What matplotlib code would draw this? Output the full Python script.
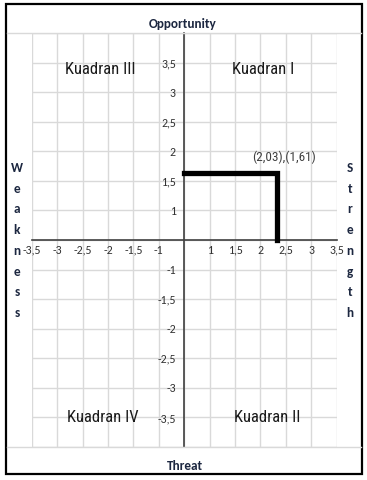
import matplotlib
matplotlib.use('Agg')
import matplotlib.pyplot as plt
from matplotlib.patches import Rectangle
from matplotlib.lines import Line2D

# tick positions (one grid step = 0.5) and the labels printed at them
x_ticks = [-3.0, -2.5, -2.0, -1.5, -1.0, -0.5, 0.0, 0.5, 1.0, 1.5, 2.0, 2.5, 3.0]
x_labels = ["-3,5", "-3", "-2,5", "-2", "-1,5", "-1", "", "1", "1,5", "2", "2,5", "3", "3,5"]
y_ticks = [-3.5, -3.0, -2.5, -2.0, -1.5, -1.0, -0.5, 0.0, 0.5, 1.0, 1.5, 2.0, 2.5, 3.0, 3.5]
y_labels = ["", "-3,5", "-3", "-2,5", "-2", "-1,5", "-1", "", "1", "1,5", "2", "2,5", "3", "3,5", ""]

# position of the result on the grid, and its label
point_x = 1.82
point_y = 1.13
point_label = "(2,03),(1,61)"

quadrants = ["Kuadran III", "Kuadran I", "Kuadran IV", "Kuadran II"]
quad_x = [-1.65, 1.56, -1.6, 1.64]
quad_y = [2.89, 2.89, -3.0, -3.0]

narrow = ['Roboto Condensed', 'DejaVu Sans']
calibri = ['Carlito', 'DejaVu Sans']
navy = '#1c2740'

fig = plt.figure(figsize=(3.67, 4.8), dpi=100)
W, H = 367, 480

# outer frame
fig.patches.append(Rectangle((6 / W, 1 - 474 / H), (362 - 6) / W, (474 - 4) / H,
                             transform=fig.transFigure, fill=False, ec='black', lw=1.6))
# full-width lines above and below the plot area
for yy in (33, 447):
    fig.lines.append(Line2D([7 / W, 361 / W], [1 - yy / H, 1 - yy / H],
                            transform=fig.transFigure, color='#d9d9d9', lw=1))

ax = fig.add_axes([31.7 / W, 1 - 447 / H, (336.7 - 31.7) / W, (447 - 33) / H])
ax.set_xlim(-3, 3)
ax.set_ylim(-3.5, 3.5)
ax.set_facecolor('none')
for s in ('top', 'right'):
    ax.spines[s].set_visible(False)
ax.spines['bottom'].set_position('zero')
ax.spines['left'].set_position('zero')
for s in ('bottom', 'left'):
    ax.spines[s].set_color('#404040')
    ax.spines[s].set_linewidth(1.2)
    ax.spines[s].set_zorder(3)

ax.set_xticks(x_ticks)
ax.set_xticklabels(x_labels, family=calibri, fontsize=8.5, color='#333333')
ax.set_yticks(y_ticks)
ax.set_yticklabels(y_labels, family=calibri, fontsize=8.5, color='#333333')
ax.tick_params(length=0)
ax.tick_params(axis='x', pad=3.5)
ax.tick_params(axis='y', pad=6)
ax.grid(True, color='#d9d9d9', lw=1)
ax.set_axisbelow(True)

# the result line
ax.plot([0, point_x, point_x], [point_y, point_y, 0], color='black', lw=3.8,
        solid_joinstyle='miter', zorder=4)
ax.text(point_x + 0.15, point_y + 0.26, point_label, family=narrow, fontsize=9.5,
        color='#404040', ha='center', va='center')

for name, qx, qy in zip(quadrants, quad_x, quad_y):
    ax.text(qx, qy, name, family=narrow, fontsize=12, color='#1a1a1a',
            ha='center', va='center')

# side titles
fig.text(183 / W, 1 - 24 / H, "Opportunity", family=calibri, fontweight='bold',
         fontsize=9.5, color=navy, ha='center', va='center')
fig.text(185 / W, 1 - 466 / H, "Threat", family=calibri, fontweight='bold',
         fontsize=9.5, color=navy, ha='center', va='center')
for i, ch in enumerate("Weakness"):
    fig.text(17 / W, 1 - (168 + i * 20.7) / H, ch, family=calibri, fontweight='bold',
             fontsize=9.5, color=navy, ha='center', va='center')
for i, ch in enumerate("Strength"):
    fig.text(350 / W, 1 - (168 + i * 20.7) / H, ch, family=calibri, fontweight='bold',
             fontsize=9.5, color=navy, ha='center', va='center')

fig.savefig('out.png', dpi=100)
